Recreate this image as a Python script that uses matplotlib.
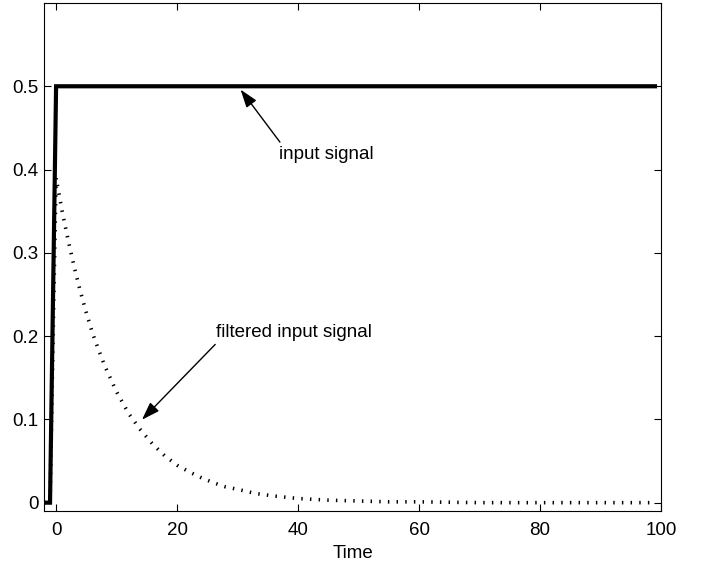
import matplotlib
matplotlib.use('Agg')
import matplotlib.pyplot as plt

plt.rcParams['font.family'] = ['Liberation Sans', 'DejaVu Sans']

# input step
t_input = [-2, -1, 0, 99]
input_signal = [0.0, 0.0, 0.5, 0.5]

# filtered input
t_filtered = [-2, -1, 0, 1, 2, 3, 4, 5, 6, 7, 8, 10, 12, 14, 16, 18, 20, 22, 24,
              26, 28, 30, 33, 36, 40, 45, 50, 55, 60, 70, 99]
filtered_signal = [0.0, 0.0, 0.390, 0.350, 0.315, 0.283, 0.254, 0.228, 0.204,
                   0.184, 0.165, 0.133, 0.107, 0.087, 0.070, 0.056, 0.045, 0.037,
                   0.030, 0.024, 0.019, 0.016, 0.011, 0.008, 0.005, 0.003, 0.002,
                   0.001, 0.001, 0.0, 0.0]

x_ticks = [0, 20, 40, 60, 80, 100]
y_ticks = [0, 0.1, 0.2, 0.3, 0.4, 0.5]
y_tick_labels = ['0', '0.1', '0.2', '0.3', '0.4', '0.5']

fs = 13.5

fig = plt.figure(figsize=(7.06, 5.66), dpi=100)
ax = fig.add_axes([0.0623, 0.0972, 0.874, 0.8975])

ax.plot(t_input, input_signal, color='black', lw=3.0, solid_joinstyle='miter')
ax.plot(t_filtered, filtered_signal, color='black', lw=2.6,
        dashes=(0.4, 2.0), dash_capstyle='butt')

ax.set_xlim(-2, 100)
ax.set_ylim(-0.01, 0.6)
ax.set_xticks(x_ticks)
ax.set_yticks(y_ticks)
ax.set_yticklabels(y_tick_labels)
ax.tick_params(direction='in', top=True, right=True, length=5, width=0.8,
               labelsize=fs)
ax.tick_params(axis='x', pad=8)
ax.tick_params(axis='y', pad=4)
for s in ax.spines.values():
    s.set_linewidth(0.8)
ax.set_xlabel('Time', fontsize=fs, labelpad=4)

arrow = dict(arrowstyle='-|>,head_length=0.5,head_width=0.17', color='black',
             lw=1.0, mutation_scale=22, shrinkA=0, shrinkB=0)
ax.annotate('', xy=(30.5, 0.496), xytext=(37.0, 0.433), arrowprops=arrow)
ax.text(36.9, 0.418, 'input signal', fontsize=fs, va='center', ha='left')
ax.annotate('', xy=(14.2, 0.0996), xytext=(26.3, 0.19), arrowprops=arrow)
ax.text(26.4, 0.204, 'filtered input signal', fontsize=fs, va='center', ha='left')

fig.savefig('out.png', dpi=100)
